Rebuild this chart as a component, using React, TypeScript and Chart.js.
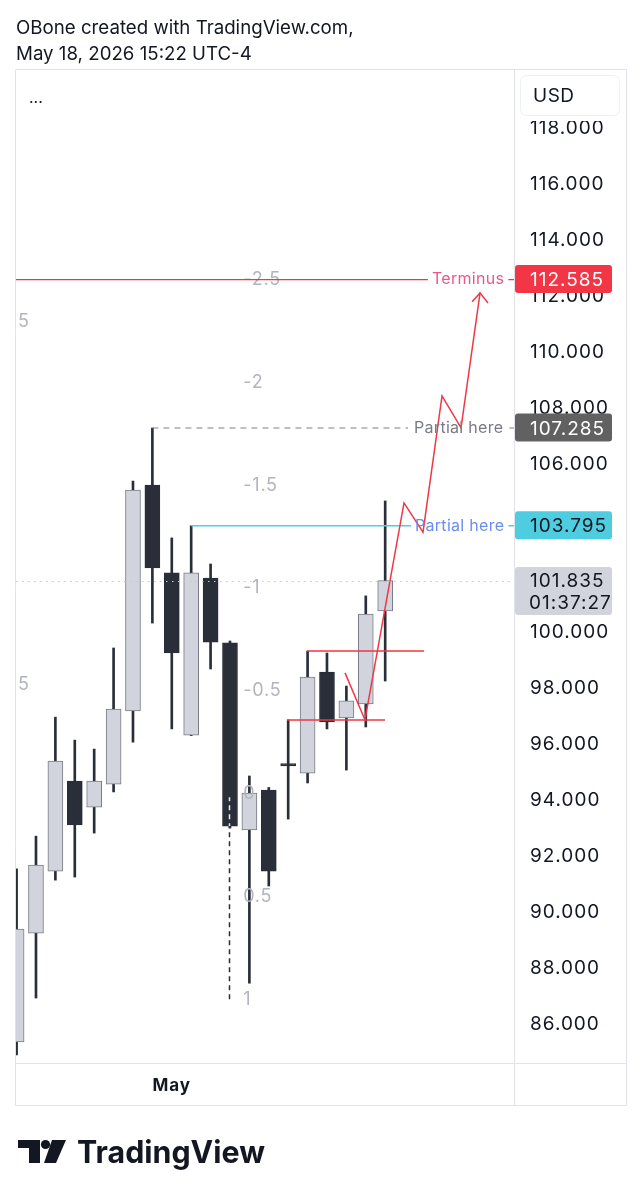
import { useEffect, useRef } from "react";
import { Chart, registerables } from "chart.js";

Chart.register(...registerables);

// ---------- data ----------
const candleIndex = [0, 1, 2, 3, 4, 5, 6, 7, 8, 9, 10, 11, 12, 13, 14, 15, 16, 17, 18, 19];
const opens = [85.36, 89.25, 91.46, 94.68, 93.75, 94.57, 97.18, 105.25, 102.11, 96.32, 101.93, 99.61, 92.93, 94.36, 95.3, 94.96, 98.57, 96.93, 97.43, 100.75];
const highs = [91.54, 92.71, 96.96, 96.14, 95.82, 99.43, 105.39, 107.285, 103.36, 103.795, 102.43, 99.68, 94.86, 94.45, 96.86, 99.32, 99.25, 98.07, 101.29, 104.68];
const lows = [84.9, 86.93, 91.14, 91.25, 92.82, 94.29, 96.07, 100.32, 96.54, 96.3, 98.68, 93.0, 87.46, 90.93, 93.32, 94.61, 96.54, 95.07, 96.61, 98.25];
const closes = [89.39, 91.68, 95.39, 93.11, 94.68, 97.25, 105.07, 102.29, 99.25, 102.11, 99.64, 93.07, 94.25, 91.46, 95.22, 98.39, 96.79, 97.54, 100.64, 101.835];

const yTicks = [86, 88, 90, 92, 94, 96, 98, 100, 102, 104, 106, 108, 110, 112, 114, 116, 118];
const xTickValues = [8];
const xTickLabels = ["May"];

const terminusPrice = 112.585;
const partialHighPrice = 107.285;
const partialLowPrice = 103.795;
const lastPrice = 101.835;
const countdown = "01:37:27";

const zigzagX = [16.93, 17.96, 19.97, 20.95, 21.93, 22.91, 23.89];
const zigzagY = [98.54, 96.86, 104.61, 103.57, 108.43, 107.29, 112.11];
const arrowX = [23.48, 23.89, 24.3];
const arrowY = [111.79, 112.11, 111.75];

const rangeTopPrice = 99.32;
const rangeTopX = [14.97, 21.0];
const rangeBottomPrice = 96.86;
const rangeBottomX = [13.94, 18.99];

const terminusX = [-0.03, 21.2, 25.35, 25.64];
const partialHighX = [7, 20.18, 25.4, 25.64];
const partialLowX = [9, 20.33, 25.35, 25.64];

const fibLevels = [-2.5, -2, -1.5, -1, -0.5, 0, 0.5, 1];
const fibLabels = ["-2.5", "-2", "-1.5", "-1", "-0.5", "0", "0.5", "1"];
const fibZeroPrice = 94.23;
const fibOnePrice = 86.89;
const fibLineX = 10.95;
const fibLineTopPrice = 94.1;
const fibLabelX = 11.68;
const sideLabelPrices = [111.07, 98.14];
const sideLabelText = "5";

const X_MIN = -0.03;
const X_MAX = 25.64;
const Y_MIN = 84.61;
const Y_MAX = 120.07;

// ---------- styles ----------
const DARK = "#2a2e39";
const LIGHT_FILL = "#d1d4dc";
const LIGHT_BORDER = "#787b86";
const RED = "#f23645";
const FONT = "Inter, 'Noto Sans', sans-serif";
const FRAME = "#e0e3eb";

function roundRect(ctx: CanvasRenderingContext2D, x: number, y: number, w: number, h: number, r: number) {
  ctx.beginPath();
  ctx.moveTo(x + r, y);
  ctx.lineTo(x + w - r, y);
  ctx.quadraticCurveTo(x + w, y, x + w, y + r);
  ctx.lineTo(x + w, y + h - r);
  ctx.quadraticCurveTo(x + w, y + h, x + w - r, y + h);
  ctx.lineTo(x + r, y + h);
  ctx.quadraticCurveTo(x, y + h, x, y + h - r);
  ctx.lineTo(x, y + r);
  ctx.quadraticCurveTo(x, y, x + r, y);
  ctx.closePath();
}

const setSpacing = (ctx: any, px: number) => {
  if ("letterSpacing" in ctx) ctx.letterSpacing = `${px}px`;
};

const fibPrice = (l: number) => fibZeroPrice + l * (fibOnePrice - fibZeroPrice);

const decorPlugin = {
  id: "decor",
  beforeDraw(chart: any) {
    const { ctx, width, height } = chart;
    ctx.save();
    ctx.fillStyle = "#fff";
    ctx.fillRect(0, 0, width, height);
    ctx.restore();
    // axis labels are a little wider in the reference
    setSpacing(ctx, 1);
  },
  beforeDatasetsDraw(chart: any) {
    const { ctx } = chart;
    const xs = chart.scales.x;
    const ys = chart.scales.y;
    ctx.save();
    setSpacing(ctx, 0.8);
    ctx.font = `18px ${FONT}`;
    ctx.fillStyle = "#b2b5be";
    ctx.textBaseline = "middle";
    ctx.textAlign = "left";
    ctx.fillText(fibLabels[0], xs.getPixelForValue(fibLabelX), ys.getPixelForValue(fibPrice(fibLevels[0])));
    sideLabelPrices.forEach((p) => ctx.fillText(sideLabelText, 18, ys.getPixelForValue(p)));
    setSpacing(ctx, 0);
    ctx.fillStyle = "#131722";
    ctx.font = `16px ${FONT}`;
    ctx.fillText("...", 29, 98);
    ctx.restore();
  },
  afterDatasetsDraw(chart: any) {
    const { ctx, chartArea } = chart;
    const xs = chart.scales.x;
    const ys = chart.scales.y;
    ctx.save();
    // fib trend line (dashed)
    const fx = Math.round(xs.getPixelForValue(fibLineX)) + 0.5;
    const fyTop = ys.getPixelForValue(fibLineTopPrice);
    const fyBot = ys.getPixelForValue(fibOnePrice);
    ctx.lineWidth = 1.5;
    ctx.setLineDash([5, 4]);
    ctx.strokeStyle = DARK;
    ctx.beginPath();
    ctx.moveTo(fx, fyBot);
    ctx.lineTo(fx, fyTop);
    ctx.stroke();
    const bodyBottom = ys.getPixelForValue(closes[11]);
    ctx.save();
    ctx.beginPath();
    ctx.rect(fx - 3, fyTop - 2, 6, bodyBottom - fyTop + 2);
    ctx.clip();
    ctx.strokeStyle = "#e8eaef";
    ctx.beginPath();
    ctx.moveTo(fx, fyBot);
    ctx.lineTo(fx, fyTop);
    ctx.stroke();
    ctx.restore();

    // last price dotted line
    const ly = Math.round(ys.getPixelForValue(lastPrice)) + 0.5;
    ctx.setLineDash([1.5, 4.5]);
    ctx.lineWidth = 1.2;
    ctx.strokeStyle = "#c3c6ce";
    ctx.beginPath();
    ctx.moveTo(chartArea.left, ly);
    ctx.lineTo(chartArea.right, ly);
    ctx.stroke();
    ctx.setLineDash([]);

    // fib labels
    setSpacing(ctx, 0.8);
    ctx.font = `18px ${FONT}`;
    ctx.fillStyle = "#b2b5be";
    ctx.textBaseline = "middle";
    ctx.textAlign = "left";
    for (let i = 1; i < fibLevels.length; i++) {
      ctx.fillText(fibLabels[i], xs.getPixelForValue(fibLabelX), ys.getPixelForValue(fibPrice(fibLevels[i])));
    }

    // line texts
    setSpacing(ctx, 0.3);
    ctx.font = `16px ${FONT}`;
    ctx.textAlign = "center";
    const mid = (a: number, b: number) => (xs.getPixelForValue(a) + xs.getPixelForValue(b)) / 2;
    ctx.fillStyle = "#e8588a";
    ctx.fillText("Terminus", mid(terminusX[1], terminusX[2]), ys.getPixelForValue(terminusPrice));
    ctx.fillStyle = "#787b86";
    ctx.fillText("Partial here", mid(partialHighX[1], partialHighX[2]), ys.getPixelForValue(partialHighPrice));
    ctx.fillStyle = "#6b8cf0";
    ctx.fillText("Partial here", mid(partialLowX[1], partialLowX[2]), ys.getPixelForValue(partialLowPrice));
    ctx.restore();
  },
  afterDraw(chart: any) {
    const { ctx } = chart;
    const ys = chart.scales.y;
    ctx.save();
    // frame
    ctx.strokeStyle = FRAME;
    ctx.lineWidth = 1;
    ctx.beginPath();
    ctx.rect(15.5, 69.5, 611, 1036);
    ctx.moveTo(514.5, 70);
    ctx.lineTo(514.5, 1105);
    ctx.moveTo(16, 1063.5);
    ctx.lineTo(626, 1063.5);
    ctx.stroke();

    // USD box
    ctx.fillStyle = "#fff";
    ctx.fillRect(516, 71, 109, 50);
    roundRect(ctx, 520.5, 75.5, 99, 40, 7);
    ctx.strokeStyle = "#eef0f4";
    ctx.stroke();
    setSpacing(ctx, 0.5);
    ctx.fillStyle = "#131722";
    ctx.font = `19px ${FONT}`;
    ctx.textBaseline = "middle";
    ctx.textAlign = "left";
    ctx.fillText("USD", 533, 96);

    // price labels
    setSpacing(ctx, 1);
    const label = (price: number, bg: string, fg: string) => {
      const y = ys.getPixelForValue(price);
      ctx.fillStyle = bg;
      roundRect(ctx, 515, y - 14.5, 97, 28, 3);
      ctx.fill();
      ctx.fillStyle = fg;
      ctx.fillText(price.toFixed(3), 530, y + 1);
    };
    label(terminusPrice, RED, "#ffffff");
    label(partialHighPrice, "#616161", "#ffffff");
    label(partialLowPrice, "#4fcde0", "#131722");
    const ly = ys.getPixelForValue(lastPrice);
    ctx.fillStyle = LIGHT_FILL;
    roundRect(ctx, 515, Math.round(ly - 13.5), 97, 48, 3);
    ctx.fill();
    ctx.fillStyle = "#131722";
    ctx.fillText(lastPrice.toFixed(3), 530, ly + 1);
    ctx.fillText(countdown, 529, ly + 23);

    // header
    setSpacing(ctx, 0);
    ctx.font = `18.7px ${FONT}`;
    ctx.fillStyle = "#131722";
    ctx.fillText("OBone created with TradingView.com,", 16, 28);
    ctx.fillText("May 18, 2026 15:22 UTC-4", 16, 54);

    // logo
    ctx.fillStyle = "#131722";
    ctx.fillRect(18, 1140, 22, 8);
    ctx.fillRect(29, 1140, 11, 23);
    ctx.beginPath();
    ctx.arc(45.5, 1144.5, 4.6, 0, Math.PI * 2);
    ctx.fill();
    ctx.beginPath();
    ctx.moveTo(52, 1140);
    ctx.lineTo(66, 1140);
    ctx.lineTo(56, 1163);
    ctx.lineTo(44, 1163);
    ctx.closePath();
    ctx.fill();
    ctx.font = `bold 31px ${FONT}`;
    ctx.textBaseline = "alphabetic";
    const w = ctx.measureText("TradingView").width;
    ctx.save();
    ctx.translate(77, 1163);
    ctx.scale(188 / w, 1);
    ctx.fillText("TradingView", 0, 0);
    ctx.restore();
    ctx.restore();
  },
};

export default function App() {
  const ref = useRef<HTMLCanvasElement>(null);
  useEffect(() => {
    const canvas = ref.current;
    if (!canvas) return;
    Chart.defaults.font.family = FONT;

    const isUp = candleIndex.map((i) => closes[i] >= opens[i]);
    const bodies = candleIndex.map((i) => ({ x: i, y: [Math.min(opens[i], closes[i]), Math.max(opens[i], closes[i])] }));
    const wicks = candleIndex.map((i) => ({ x: i, y: [lows[i], highs[i]] }));
    const hline = (xsArr: number[], p: number) => [
      { x: xsArr[0], y: p },
      { x: xsArr[1], y: p },
      { x: (xsArr[1] + xsArr[2]) / 2, y: null },
      { x: xsArr[2], y: p },
      { x: xsArr[3], y: p },
    ];
    const lineBase = { type: "line", pointRadius: 0, tension: 0, fill: false, clip: 0, spanGaps: false, order: 0 };

    const chart = new Chart(canvas, {
      type: "bar",
      data: {
        datasets: [
          {
            ...lineBase,
            data: zigzagX.map((x, i) => ({ x, y: zigzagY[i] })),
            borderColor: RED,
            borderWidth: 1.5,
          },
          {
            ...lineBase,
            data: arrowX.map((x, i) => ({ x, y: arrowY[i] })),
            borderColor: RED,
            borderWidth: 1.5,
          },
          {
            ...lineBase,
            data: [{ x: rangeTopX[0], y: rangeTopPrice }, { x: rangeTopX[1], y: rangeTopPrice }],
            borderColor: RED,
            borderWidth: 1.5,
          },
          {
            ...lineBase,
            data: [{ x: rangeBottomX[0], y: rangeBottomPrice }, { x: rangeBottomX[1], y: rangeBottomPrice }],
            borderColor: RED,
            borderWidth: 1.5,
          },
          {
            ...lineBase,
            data: hline(terminusX, terminusPrice),
            borderColor: RED,
            borderWidth: 1.3,
          },
          {
            ...lineBase,
            data: hline(partialHighX, partialHighPrice),
            borderColor: "#7d8089",
            borderWidth: 1.2,
            borderDash: [6, 5],
          },
          {
            ...lineBase,
            data: hline(partialLowX, partialLowPrice),
            borderColor: "#4dd0e1",
            borderWidth: 1.3,
          },
          {
            type: "bar",
            data: bodies,
            backgroundColor: candleIndex.map((i) => (isUp[i] ? LIGHT_FILL : DARK)),
            borderColor: candleIndex.map((i) => (isUp[i] ? LIGHT_BORDER : DARK)),
            borderWidth: 1,
            borderSkipped: false,
            barThickness: 15,
            grouped: false,
            clip: 0,
            order: 2,
          },
          {
            type: "bar",
            data: wicks,
            backgroundColor: DARK,
            borderWidth: 0,
            barThickness: 2,
            grouped: false,
            clip: 0,
            order: 3,
          },
        ] as any,
      },
      options: {
        responsive: false,
        animation: false,
        events: [],
        layout: { padding: { left: 16, top: 70, right: 16, bottom: 95 } },
        plugins: { legend: { display: false }, tooltip: { enabled: false } },
        scales: {
          x: {
            type: "linear",
            min: X_MIN,
            max: X_MAX,
            offset: false,
            grid: { display: false, drawTicks: false },
            border: { display: false },
            afterBuildTicks: (s: any) => {
              s.ticks = xTickValues.map((v) => ({ value: v }));
            },
            afterFit: (s: any) => {
              s.height = 42;
            },
            ticks: {
              callback: (_v: any, i: number) => xTickLabels[i],
              color: "#131722",
              font: { size: 17, weight: "bold" },
              padding: 13,
              maxRotation: 0,
              autoSkip: false,
            },
          },
          y: {
            type: "linear",
            position: "right",
            min: Y_MIN,
            max: Y_MAX,
            grid: { display: false, drawTicks: false },
            border: { display: false },
            afterBuildTicks: (s: any) => {
              s.ticks = yTicks.map((v) => ({ value: v }));
            },
            afterFit: (s: any) => {
              s.width = 112;
            },
            ticks: {
              callback: (v: any) => Number(v).toFixed(3),
              color: "#131722",
              font: { size: 19 },
              padding: 16,
              autoSkip: false,
            },
          },
        },
      } as any,
      plugins: [decorPlugin],
    });
    return () => chart.destroy();
  }, []);

  return (
    <div style={{ position: "absolute", left: 0, top: 0, width: 642, height: 1200, background: "#fff" }}>
      <canvas ref={ref} width={642} height={1200} style={{ display: "block", width: 642, height: 1200 }} />
    </div>
  );
}
